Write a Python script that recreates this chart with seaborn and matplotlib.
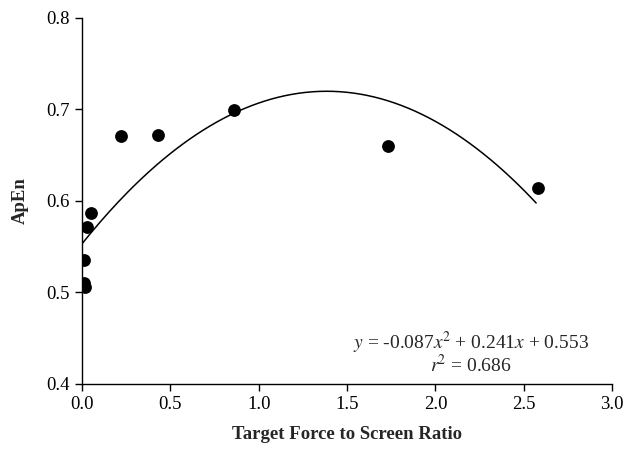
import numpy as np
import pandas as pd
import matplotlib
matplotlib.use("Agg")
import matplotlib.pyplot as plt
import seaborn as sns

ratio = [0.01, 0.01, 0.02, 0.03, 0.05, 0.22, 0.43, 0.86, 1.73, 2.58]
apen = [0.535, 0.510, 0.506, 0.571, 0.587, 0.671, 0.672, 0.699, 0.660, 0.614]
coef = [-0.087, 0.241, 0.553]
fit_range = [0.0, 2.57]
x_ticks = [0.0, 0.5, 1.0, 1.5, 2.0, 2.5, 3.0]
y_ticks = [0.4, 0.5, 0.6, 0.7, 0.8]

sns.set_style("ticks")
plt.rcParams['font.family'] = ['Liberation Serif', 'DejaVu Serif']
plt.rcParams['mathtext.fontset'] = 'stix'

fig = plt.figure(figsize=(6.35, 4.5), dpi=100)
ax = fig.add_axes([0.129, 0.147, 0.835, 0.813])

df = pd.DataFrame({"x": ratio, "y": apen})
sns.scatterplot(data=df, x="x", y="y", ax=ax, color="black", s=85, edgecolor="black", linewidth=0, zorder=3)

xs = np.linspace(fit_range[0], fit_range[1], 200)
fit = pd.DataFrame({"x": xs, "y": np.polyval(coef, xs)})
sns.lineplot(data=fit, x="x", y="y", ax=ax, color="black", linewidth=1.1)

ax.set_xlim(0, 3.0)
ax.set_ylim(0.4, 0.8)
ax.set_xticks(x_ticks)
ax.set_yticks(y_ticks)
ax.set_xticklabels([f"{t:.1f}" for t in x_ticks])
ax.set_yticklabels([f"{t:.1f}" for t in y_ticks])
ax.tick_params(direction='out', length=5, width=1, labelsize=13.5, colors='black', pad=4)
for s in ['top', 'right']:
    ax.spines[s].set_visible(False)
for s in ['left', 'bottom']:
    ax.spines[s].set_color('black')
    ax.spines[s].set_linewidth(1)

ax.set_xlabel("Target Force to Screen Ratio", fontsize=13.5, fontweight='bold', labelpad=9)
ax.set_ylabel("ApEn", fontsize=13.5, fontweight='bold', labelpad=12)

ax.text(2.2, 0.445, r"$y$ = -0.087$x$$^{2}$ + 0.241$x$ + 0.553", ha='center', va='center', fontsize=14)
ax.text(2.2, 0.421, r"$r$$^{2}$ = 0.686", ha='center', va='center', fontsize=14)

fig.savefig("out.png", dpi=100)
